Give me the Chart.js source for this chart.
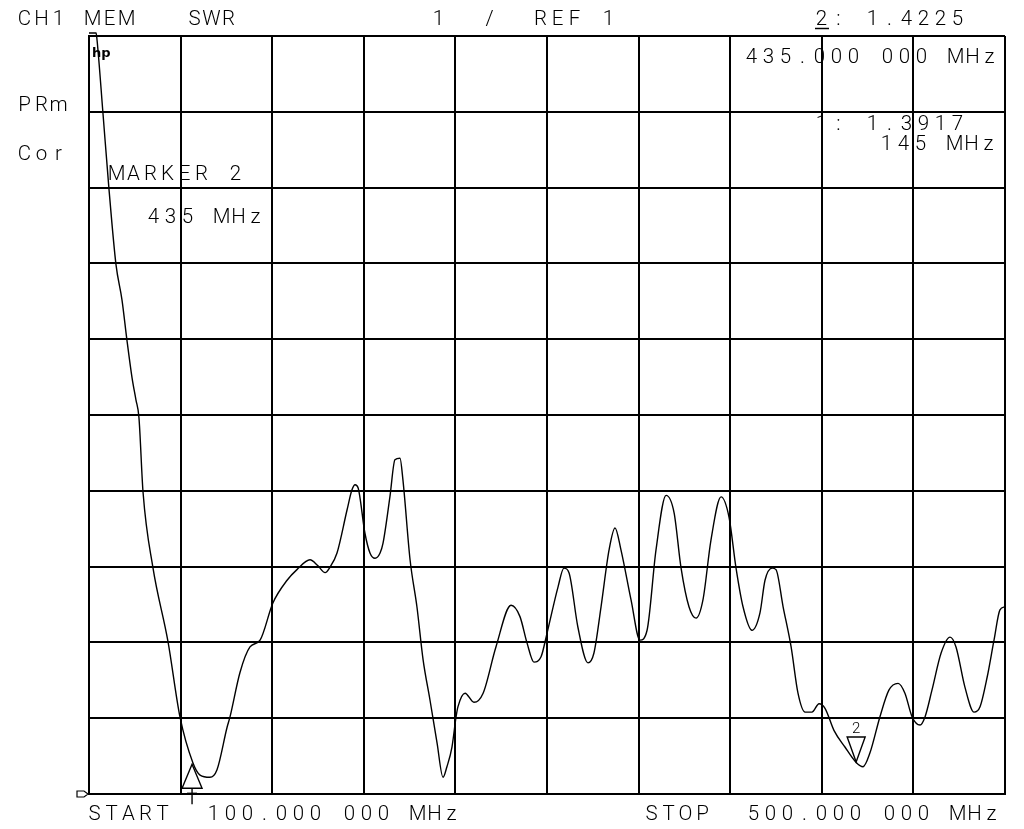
<!DOCTYPE html>
<html>
<head>
<meta charset="utf-8">
<script src="https://cdn.jsdelivr.net/npm/chart.js@4/dist/chart.umd.min.js"></script>
<style>
  html, body { margin: 0; padding: 0; background: #fff; }
  canvas { display: block; }
</style>
</head>
<body>
<canvas id="c" width="1024" height="829"></canvas>
<script>
// Frequency (MHz) of trace points
const freqMHz = [
  100.0, 103.1, 103.5, 106.1, 108.7, 111.8, 114.4, 116.6, 118.8, 120.5,
  121.8, 123.6, 127.9, 134.5, 139.7, 145.4, 148.5, 152.8, 155.9, 160.3,
  161.6, 165.9, 170.3, 174.7, 180.3, 186.5, 190.8, 196.5, 200.0, 203.1,
  205.2, 208.3, 212.7, 214.8, 216.2, 217.5, 220.5, 222.7, 224.9, 227.1,
  228.4, 231.4, 233.6, 235.8, 237.1, 240.2, 243.2, 245.9, 248.9, 252.0,
  254.6, 256.3, 258.5, 260.3, 261.1, 264.2, 268.1, 272.1, 277.7, 284.3,
  288.2, 291.3, 294.3, 297.4, 300.0, 304.8, 307.4, 309.6, 313.5, 317.9,
  320.5, 323.6, 327.1, 329.7, 332.3, 336.7, 340.6, 343.7, 347.6, 352.0,
  355.5, 358.5, 362.0, 365.1, 368.1, 371.6, 376.0, 379.5, 382.5, 385.6,
  389.5, 393.0, 395.2, 398.3, 400.0, 403.1, 406.6, 409.6, 412.7, 415.7,
  418.8, 421.4, 425.3, 430.1, 434.9, 438.0, 441.0, 445.4, 449.3, 453.3,
  456.3, 459.4, 462.9, 465.1, 468.1, 472.1, 476.0, 478.6, 482.5, 486.5,
  489.1, 492.2, 495.2, 497.8, 500.0
];
// SWR values of the trace (display clipped just above 11 at the top)
const swrValues = [
  11.04, 11.04, 10.95, 9.98, 8.99, 7.98, 7.52, 6.98, 6.49, 6.20,
  5.97, 4.98, 3.99, 3.01, 2.02, 1.41, 1.25, 1.22, 1.32, 1.88,
  2.02, 2.60, 2.94, 3.03, 3.52, 3.82, 3.96, 4.09, 4.01, 3.92,
  3.99, 4.18, 4.75, 5.01, 5.08, 5.04, 4.44, 4.18, 4.11, 4.18,
  4.31, 4.92, 5.41, 5.43, 5.14, 4.09, 3.47, 2.77, 2.24, 1.67,
  1.22, 1.36, 1.62, 2.02, 2.15, 2.33, 2.21, 2.33, 2.94, 3.49,
  3.34, 2.99, 2.74, 2.81, 3.12, 3.73, 3.98, 3.92, 3.20, 2.73,
  2.86, 3.47, 4.22, 4.51, 4.22, 3.56, 3.03, 3.16, 4.22, 4.94,
  4.71, 3.99, 3.47, 3.32, 3.56, 4.35, 4.92, 4.65, 3.99, 3.47,
  3.16, 3.39, 3.82, 3.98, 3.96, 3.47, 2.94, 2.33, 2.08, 2.08,
  2.19, 2.13, 1.84, 1.62, 1.42, 1.36, 1.54, 2.02, 2.37, 2.46,
  2.33, 2.02, 1.91, 2.02, 2.37, 2.86, 3.07, 2.94, 2.41, 2.08,
  2.15, 2.54, 3.03, 3.43, 3.47
];
// Markers
const markerLabels = ['1', '2'];
const markerFreq = [145, 435];
const markerSwr = [1.3917, 1.4225];
// Axis ranges / divisions
const xRange = [100, 500];
const xStep = 40;
const yRange = [1, 11];
const yStep = 1;
// Annotation texts (instrument screen text)
const textHeader = ['CH1 MEM   SWR', '1  /  REF 1', '2: 1.4225'];
const textStatus = ['PRm', 'Cor'];
const textMarker2 = ['MARKER 2', '435 MHz', '435.000 000 MHz'];
const textMarker1 = ['1: 1.3917', '145 MHz'];
const textFooter = ['START  100.000 000 MHz', 'STOP  500.000 000 MHz'];

const PITCH = 17;
const FONT = '300 20.5px Roboto, "Open Sans", sans-serif';

function mono(ctx, str, x, y) {
  for (let i = 0; i < str.length; i++) {
    const ch = str[i];
    if (ch !== ' ') ctx.fillText(ch, x + 6.5 + i * PITCH, y);
  }
}

const screenPlugin = {
  id: 'screen',
  beforeDraw(chart) {
    const ctx = chart.ctx;
    ctx.save();
    ctx.fillStyle = '#fff';
    ctx.fillRect(0, 0, chart.width, chart.height);
    ctx.restore();
  },
  afterDraw(chart) {
    const ctx = chart.ctx;
    const xs = chart.scales.x, ys = chart.scales.y;
    const area = chart.chartArea;
    ctx.save();
    ctx.fillStyle = '#000';
    ctx.strokeStyle = '#000';
    ctx.font = FONT;
    ctx.textAlign = 'center';
    ctx.textBaseline = 'alphabetic';

    mono(ctx, textHeader[0], 18, 25);
    mono(ctx, textHeader[1], 432, 25);
    mono(ctx, textHeader[2], 815, 25);
    // underline under active marker number
    ctx.lineWidth = 1.5;
    ctx.beginPath(); ctx.moveTo(815, 28.5); ctx.lineTo(829, 28.5); ctx.stroke();

    mono(ctx, textStatus[0], 18, 111);
    mono(ctx, textStatus[1], 18, 160);

    mono(ctx, textMarker2[0], 110, 180);
    mono(ctx, textMarker2[1], 147, 223);
    mono(ctx, textMarker2[2], 745, 63);

    mono(ctx, textMarker1[0], 815, 130);
    mono(ctx, textMarker1[1], 880, 150);

    mono(ctx, textFooter[0], 88, 820);
    mono(ctx, textFooter[1], 645, 820);

    // hp logo
    ctx.font = 'bold 13px "DejaVu Sans", sans-serif';
    ctx.textAlign = 'left';
    ctx.fillText('hp', 92, 57);

    // reference position indicator at left
    ctx.lineWidth = 1.2;
    const ry = area.bottom;
    ctx.beginPath();
    ctx.moveTo(77, ry - 3); ctx.lineTo(84, ry - 3); ctx.lineTo(88, ry);
    ctx.lineTo(84, ry + 3); ctx.lineTo(77, ry + 3); ctx.closePath();
    ctx.stroke();

    // markers
    ctx.lineWidth = 1.4;
    ctx.textAlign = 'center';
    for (let i = 0; i < markerFreq.length; i++) {
      const px = xs.getPixelForValue(markerFreq[i]);
      const py = ys.getPixelForValue(markerSwr[i]);
      ctx.beginPath();
      if (i === 0) {
        // up-pointing triangle, apex on trace, label below
        ctx.moveTo(px, py); ctx.lineTo(px - 10, py + 24); ctx.lineTo(px + 10, py + 24); ctx.closePath();
        ctx.stroke();
        ctx.beginPath(); ctx.moveTo(px, py + 24); ctx.lineTo(px, py + 40); ctx.stroke();
        ctx.beginPath(); ctx.moveTo(px - 5, py + 29); ctx.lineTo(px + 5, py + 29); ctx.stroke();
      } else {
        // down-pointing triangle, apex on trace, label above
        ctx.moveTo(px, py); ctx.lineTo(px - 9, py - 25); ctx.lineTo(px + 9, py - 25); ctx.closePath();
        ctx.stroke();
        ctx.font = '300 15px Roboto, sans-serif';
        ctx.fillText(markerLabels[i], px, py - 29);
      }
    }
    ctx.restore();
  }
};

new Chart(document.getElementById('c'), {
  type: 'line',
  data: {
    datasets: [{
      data: freqMHz.map((f, i) => ({ x: f, y: swrValues[i] })),
      borderColor: '#000',
      borderWidth: 1.4,
      pointRadius: 0,
      tension: 0.3,
      cubicInterpolationMode: 'monotone',
      fill: false,
      clip: 5
    }]
  },
  options: {
    responsive: false,
    devicePixelRatio: 1,
    animation: false,
    events: [],
    layout: { padding: { left: 89, right: 19, top: 36, bottom: 35 } },
    plugins: { legend: { display: false }, tooltip: { enabled: false } },
    scales: {
      x: {
        type: 'linear', min: xRange[0], max: xRange[1],
        ticks: { display: false, stepSize: xStep },
        grid: { color: '#000', lineWidth: 2, drawTicks: false },
        border: { display: true, color: '#000', width: 2 }
      },
      y: {
        type: 'linear', min: yRange[0], max: yRange[1],
        ticks: { display: false, stepSize: yStep },
        grid: { color: '#000', lineWidth: 2, drawTicks: false },
        border: { display: true, color: '#000', width: 2 }
      }
    }
  },
  plugins: [screenPlugin]
});
</script>
</body>
</html>
